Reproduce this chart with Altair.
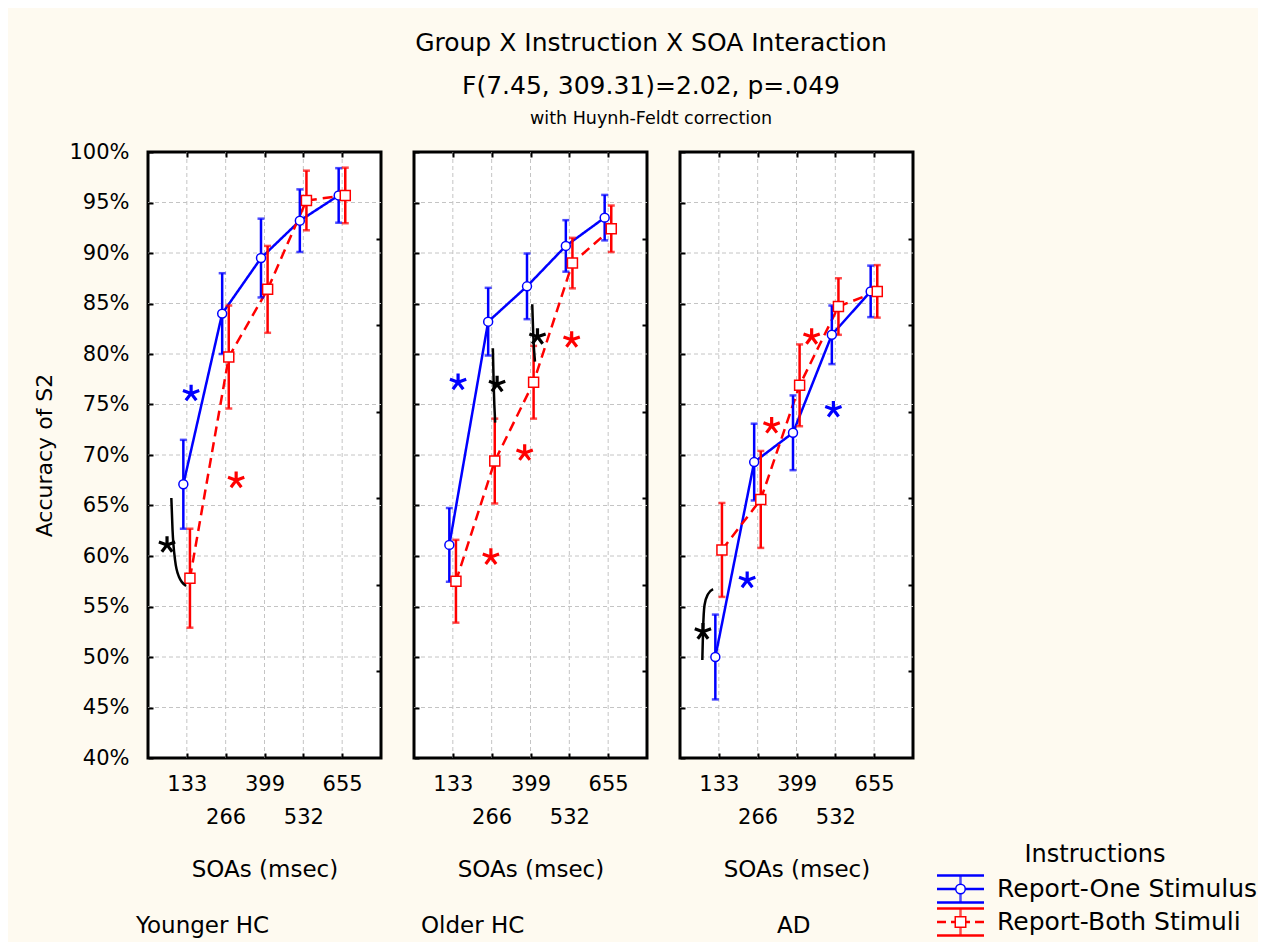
import altair as alt
import pandas as pd

# ---------------- data ----------------
groups = ["Younger HC", "Older HC", "AD"]
soa_labels = ["133", "266", "399", "532", "655"]
instructions = ["Report-One Stimulus", "Report-Both Stimuli"]

one_mean = {
    "Younger HC": [67.1, 84.0, 89.5, 93.2, 95.7],
    "Older HC": [61.1, 83.2, 86.7, 90.7, 93.5],
    "AD": [50.0, 69.3, 72.2, 81.9, 86.2],
}
one_err = {
    "Younger HC": [4.4, 4.0, 3.9, 3.1, 2.7],
    "Older HC": [3.65, 3.35, 3.25, 2.55, 2.25],
    "AD": [4.2, 3.8, 3.7, 2.9, 2.55],
}
both_mean = {
    "Younger HC": [57.8, 79.7, 86.4, 95.2, 95.7],
    "Older HC": [57.5, 69.4, 77.2, 89.0, 92.4],
    "AD": [60.6, 65.6, 76.9, 84.7, 86.2],
}
both_err = {
    "Younger HC": [4.9, 5.1, 4.3, 2.95, 2.75],
    "Older HC": [4.1, 4.2, 3.6, 2.5, 2.3],
    "AD": [4.65, 4.8, 4.05, 2.8, 2.6],
}

y_ticks = [40, 45, 50, 55, 60, 65, 70, 75, 80, 85, 90, 95, 100]
x_ticks = [1, 2, 3, 4, 5]
right_ticks = [1, 2, 3, 4, 5, 6]  # right-edge ticks, in sevenths of the axis

star_kinds = ["Report-One Stimulus", "Report-Both Stimuli", "Between instructions"]
star_group = ["Younger HC", "Younger HC", "Younger HC",
              "Older HC", "Older HC", "Older HC", "Older HC", "Older HC", "Older HC",
              "AD", "AD", "AD", "AD", "AD"]
star_kind = [star_kinds[0], star_kinds[1], star_kinds[2],
             star_kinds[0], star_kinds[1], star_kinds[1], star_kinds[1], star_kinds[2], star_kinds[2],
             star_kinds[0], star_kinds[0], star_kinds[1], star_kinds[1], star_kinds[2]]
star_x = [1.11, 2.27, 0.49,
          1.135, 1.98, 2.85, 4.06, 2.14, 3.18,
          1.73, 3.95, 2.36, 3.39, 0.59]
star_y = [76.1, 67.5, 61.1,
          77.2, 59.9, 70.2, 81.4, 77.0, 81.7,
          57.6, 74.5, 72.9, 81.7, 52.5]

curve_group = ["Younger HC"] * 5 + ["Older HC"] * 6 + ["AD"] * 5
curve_id = ["a"] * 5 + ["b"] * 3 + ["c"] * 3 + ["d"] * 5
curve_x = [0.601, 0.632, 0.697, 0.800, 0.981,
           2.031, 2.052, 2.090,
           3.045, 3.071, 3.115,
           0.575, 0.594, 0.632, 0.723, 0.852]
curve_y = [65.74, 62.57, 59.60, 57.92, 57.03,
           80.56, 76.93, 73.20,
           84.92, 81.88, 79.24,
           49.70, 52.67, 55.15, 56.24, 56.73]

rows = []
for g in groups:
    for i in range(5):
        rows.append(dict(group=g, instr=instructions[0], i=i + 1,
                         mean=one_mean[g][i], err=one_err[g][i]))
        rows.append(dict(group=g, instr=instructions[1], i=i + 1,
                         mean=both_mean[g][i], err=both_err[g][i]))
means_df = pd.DataFrame(rows)
stars_df = pd.DataFrame(dict(group=star_group, kind=star_kind, sx=star_x, sy=star_y))
curves_df = pd.DataFrame(dict(group=curve_group, cid=curve_id, cx=curve_x, cy=curve_y,
                              ordr=list(range(len(curve_x)))))
legend_df = pd.DataFrame({"instr": instructions})

# ---------------- styling ----------------
FONT = "DejaVu Sans"
BLUE = "#0000ff"
RED = "#ff0000"
GRID = "#c4c4c4"
TICK = {"expr": "-5"}

xscale = alt.Scale(domain=[0, 6], nice=False, zero=False)
yscale = alt.Scale(domain=[40, 100], nice=False, zero=False)
color_scale = alt.Scale(domain=star_kinds, range=[BLUE, RED, "black"])
dash_scale = alt.Scale(domain=instructions, range=[[1, 0], [10, 6]])

STAR = "M0,0L0,-1M0,0L0.94,-0.34M0,0L-0.94,-0.34M0,0L0.6,0.8M0,0L-0.6,0.8"

arr = "[" + ",".join("'" + s + "'" for s in soa_labels) + "]"
label_expr = ("datum.value % 2 == 0 ? ['', " + arr + "[datum.value - 1]] : "
              + arr + "[datum.value - 1]")

title_dx = [-12, 7, 97]
title_dy = [0, 0, -56]

# legend block placement (pixels, relative to the last panel)
LEG_ROWS = [737, 770]
LEG_X0, LEG_XC, LEG_X1, LEG_TX, LEG_TITLE_X, LEG_TITLE_Y = 257, 280.5, 304, 317, 415, 703


def panel(k, g):
    d = means_df[means_df["group"] == g]
    base = alt.Chart(d).transform_calculate(
        xpos="datum.i + (datum.instr == '" + instructions[0] + "' ? -0.09 : 0.08)",
        lo="datum.mean - datum.err",
        hi="datum.mean + datum.err",
    )
    x_bottom = alt.X("xpos:Q", scale=xscale, axis=alt.Axis(
        orient="bottom", values=x_ticks, labelExpr=label_expr, labelLineHeight=33,
        labelFont=FONT, labelFontSize=21, labelColor="black", labelPadding=20,
        labelOverlap=False, labelFlush=False, labelBaseline="top",
        tickSize=TICK, tickWidth=2, tickColor="black", domain=False, grid=False,
        zindex=1,
        title="SOAs (msec)", titleFont=FONT, titleFontSize=23, titleFontWeight="normal",
        titleColor="black", titlePadding=31))
    yaxis_kw = dict(
        orient="left", values=y_ticks, labelExpr="datum.value + '%'",
        labels=(k == 0), labelFont=FONT, labelFontSize=21, labelColor="black",
        labelPadding=24, labelOverlap=False, labelFlush=False,
        tickSize=TICK, tickWidth=2, tickColor="black", domain=False, grid=False,
        zindex=1)
    if k == 0:
        yaxis_kw.update(title="Accuracy of S2", titleFont=FONT, titleFontSize=22,
                        titleFontWeight="normal", titleColor="black", titlePadding=12)
    else:
        yaxis_kw.update(title=None)
    y_left = alt.Y("mean:Q", scale=yscale, axis=alt.Axis(**yaxis_kw))
    xn = alt.X("xpos:Q", scale=xscale, axis=None)
    col = alt.Color("instr:N", scale=color_scale, legend=None)

    frame = alt.Chart(pd.DataFrame({"bg": [0]})).mark_rect(
        fill="white", stroke="black", strokeWidth=3).encode(
        x=alt.value(0), x2=alt.value("width"), y=alt.value(0), y2=alt.value("height"))
    hgrid = alt.Chart(pd.DataFrame({"v": y_ticks[1:-1]})).mark_rule(
        color=GRID, strokeDash=[4, 3], strokeWidth=1).encode(
        y=alt.Y("v:Q", scale=yscale, axis=None), x=alt.value(0), x2=alt.value("width"))
    vgrid = alt.Chart(pd.DataFrame({"v": x_ticks})).mark_rule(
        color=GRID, strokeDash=[4, 3], strokeWidth=1).encode(
        x=alt.X("v:Q", scale=xscale, axis=None), y=alt.value(0), y2=alt.value("height"))

    lines = base.mark_line(strokeWidth=2.5).encode(
        x=x_bottom, y=y_left, color=col,
        strokeDash=alt.StrokeDash("instr:N", scale=dash_scale, legend=None))
    rules = base.mark_rule(strokeWidth=2.5).encode(
        x=xn, y=alt.Y("lo:Q", scale=yscale, axis=None), y2="hi:Q", color=col)
    caps_lo = base.mark_tick(orient="horizontal", size=7, thickness=2.5).encode(
        x=xn, y=alt.Y("lo:Q", scale=yscale, axis=None), color=col)
    caps_hi = base.mark_tick(orient="horizontal", size=7, thickness=2.5).encode(
        x=xn, y=alt.Y("hi:Q", scale=yscale, axis=None), color=col)
    pts_one = base.transform_filter(
        "datum.instr == '" + instructions[0] + "'").mark_point(
        shape="circle", size=80, filled=True, fill="white", stroke=BLUE,
        strokeWidth=1.5, opacity=1).encode(
        x=xn, y=alt.Y("mean:Q", scale=yscale, axis=None))
    pts_both = base.transform_filter(
        "datum.instr == '" + instructions[1] + "'").mark_point(
        shape="square", size=100, filled=True, fill="white", stroke=RED,
        strokeWidth=1.5, opacity=1).encode(
        x=xn, y=alt.Y("mean:Q", scale=yscale, axis=None))

    stars = alt.Chart(stars_df[stars_df["group"] == g]).mark_point(
        shape=STAR, size=300, filled=False, strokeWidth=3.2, opacity=1).encode(
        x=alt.X("sx:Q", scale=xscale, axis=None),
        y=alt.Y("sy:Q", scale=yscale, axis=None),
        color=alt.Color("kind:N", scale=color_scale, legend=None))
    curves = alt.Chart(curves_df[curves_df["group"] == g]).mark_line(
        color="black", strokeWidth=2.5, interpolate="monotone").encode(
        x=alt.X("cx:Q", scale=xscale, axis=None),
        y=alt.Y("cy:Q", scale=yscale, axis=None),
        detail="cid:N", order="ordr:Q")

    top_axis = alt.Chart(pd.DataFrame({"t": x_ticks})).mark_point(opacity=0).encode(
        x=alt.X("t:Q", scale=xscale, axis=alt.Axis(
            orient="top", values=x_ticks, labels=False, grid=False, domain=False,
            tickSize=TICK, tickWidth=2, tickColor="black", title=None, zindex=1)))
    right_axis = alt.Chart(pd.DataFrame({"r": right_ticks})).mark_point(opacity=0).encode(
        y=alt.Y("r:Q", scale=alt.Scale(domain=[0, 7], nice=False, zero=False),
                axis=alt.Axis(orient="right", values=right_ticks, labels=False,
                              grid=False, domain=False, tickSize=TICK, tickWidth=2,
                              tickColor="black", title=None, zindex=1)))

    layers = [frame, hgrid, vgrid, lines, rules, caps_lo, caps_hi, pts_one, pts_both,
              stars, curves, top_axis, right_axis]

    if k == 2:
        ly = alt.Y("instr:N", scale=alt.Scale(type="point", domain=instructions,
                                              range=LEG_ROWS, padding=0), axis=None)
        lg = alt.Chart(legend_df)
        layers += [
            lg.mark_rule(strokeWidth=2.5, yOffset=-13.5).encode(
                x=alt.value(LEG_X0), x2=alt.value(LEG_X1), y=ly, color=col),
            lg.mark_rule(strokeWidth=2.5, yOffset=13.5).encode(
                x=alt.value(LEG_X0), x2=alt.value(LEG_X1), y=ly, color=col),
            lg.mark_tick(orient="vertical", size=27, thickness=2.5).encode(
                x=alt.value(LEG_XC), y=ly, color=col),
            lg.transform_filter("datum.instr == '" + instructions[0] + "'").mark_rule(
                strokeWidth=2.5, color=BLUE).encode(
                x=alt.value(LEG_X0), x2=alt.value(LEG_X1), y=ly),
            lg.transform_filter("datum.instr == '" + instructions[1] + "'").mark_rule(
                strokeWidth=2.5, color=RED, strokeDash=[9, 5, 4, 11, 4, 5, 9]).encode(
                x=alt.value(LEG_X0), x2=alt.value(LEG_X1), y=ly),
            lg.transform_filter("datum.instr == '" + instructions[0] + "'").mark_point(
                shape="circle", size=90, filled=True, fill="white", stroke=BLUE,
                strokeWidth=1.5, opacity=1).encode(x=alt.value(LEG_XC), y=ly),
            lg.transform_filter("datum.instr == '" + instructions[1] + "'").mark_point(
                shape="square", size=110, filled=True, fill="white", stroke=RED,
                strokeWidth=1.5, opacity=1).encode(x=alt.value(LEG_XC), y=ly),
            lg.mark_text(align="left", baseline="middle", font=FONT, fontSize=25,
                         color="black").encode(x=alt.value(LEG_TX), y=ly, text="instr:N"),
            alt.Chart(pd.DataFrame({"t": ["Instructions"]})).mark_text(
                align="center", baseline="middle", font=FONT, fontSize=24,
                color="black").encode(x=alt.value(LEG_TITLE_X),
                                      y=alt.value(LEG_TITLE_Y), text="t:N"),
        ]

    return alt.layer(*layers).resolve_scale(y="independent").resolve_axis(
        x="independent").properties(
        width=233, height=606,
        title=alt.TitleParams(text=g, orient="bottom", anchor="start", frame="group",
                              dx=title_dx[k], dy=title_dy[k], offset=34, font=FONT,
                              fontSize=23, fontWeight="normal", color="black"))


chart = alt.hconcat(*[panel(k, g) for k, g in enumerate(groups)],
                    spacing=33, bounds="flush").properties(
    title=alt.TitleParams(
        text=["Group X Instruction X SOA Interaction", "F(7.45, 309.31)=2.02, p=.049"],
        subtitle="with Huynh-Feldt correction",
        anchor="middle", frame="group", dx=503, offset=14,
        font=FONT, fontSize=25, fontWeight="normal", color="black", lineHeight=43,
        subtitleFont=FONT, subtitleFontSize=17.5, subtitleColor="black",
        subtitlePadding=11),
    padding={"left": 25, "top": 22, "right": 0, "bottom": 4},
).configure(background="#FEFAF0").configure_view(strokeWidth=0)

chart.save("out.html", embed_options={"renderer": "svg", "actions": False})
